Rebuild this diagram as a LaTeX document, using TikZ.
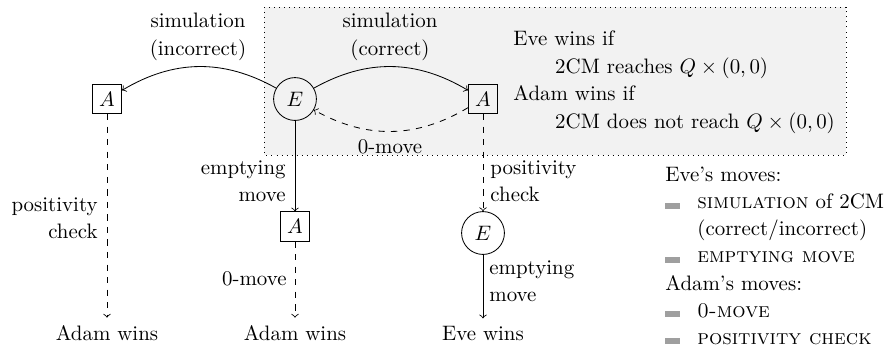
\documentclass[tikz,border=0pt]{standalone}
\usepackage{xcolor}
\newcommand{\legbul}{\makebox[15.3pt][l]{\textcolor{gray!75}{\rule{7.2pt}{2.9pt}}}}
\begin{document}
\begin{tikzpicture}[x=0.4785pt,y=-0.4785pt,>=to,
  abox/.style={draw, rectangle, minimum size=14pt, inner sep=0pt},
  ecirc/.style={draw, circle, minimum size=20.5pt, inner sep=0pt},
  lbl/.style={inner sep=0pt},
  frame/.style={draw, dotted, fill=gray!10}]
\useasboundingbox (0,0) rectangle (890,354);
\draw[frame] (264,7) rectangle (846,155);
% states
\node[abox] (a1) at (107,99) {$A$};
\node[ecirc] (e1) at (295,99) {$E$};
\node[abox] (a2) at (483,99) {$A$};
\node[abox] (a3) at (295,226.5) {$A$};
\node[ecirc] (e2) at (483,233) {$E$};
\node[anchor=base] (w1) at (107,340) {Adam wins};
\node[anchor=base] (w2) at (295,340) {Adam wins};
\node[anchor=base] (w3) at (483,340) {Eve wins};
% connectors
\draw[->] (e1) to[bend right=30] (a1);
\draw[->] (e1) to[bend left=30] (a2);
\draw[->,dashed] (a2) to[bend left=30] (e1);
\draw[->,dashed] (a1) -- (w1);
\draw[->] (e1) -- (a3);
\draw[->,dashed] (a3) -- (w2);
\draw[->,dashed] (a2) -- (e2);
\draw[->] (e2) -- (w3);
% labels
\node[lbl, anchor=north, align=center] (l1) at (198,13) {simulation\\[1pt](incorrect)};
\node[lbl, anchor=north, align=center] (l2) at (390,13) {simulation\\[1pt](correct)};
\node[lbl, anchor=base] (l3) at (390,153.5) {0-move};
\node[lbl, anchor=north east, align=right] (l4) at (286,160) {emptying\\[1pt]move};
\node[lbl, anchor=north west, align=left] (l5) at (490,160) {positivity\\[1pt]check};
\node[lbl, anchor=north east, align=right] (l6) at (98,197) {positivity\\[1pt]check};
\node[lbl, anchor=base east] (l7) at (287,285.5) {0-move};
\node[lbl, anchor=north west, align=left] (l8) at (489,260) {emptying\\[1pt]move};
% winning conditions
\node[lbl, anchor=north west, align=left] (cond) at (513,30.5)
  {Eve wins if\\[1.2pt]
   \hspace*{20pt}2CM reaches $Q\times(0,0)$\\[1.2pt]
   Adam wins if\\[1.2pt]
   \hspace*{20pt}2CM does not reach $Q\times(0,0)$};
% legend
\node[lbl, anchor=north west, align=left] (leg) at (665,166.5)
  {Eve's moves:\\[1pt]
   \legbul\textsc{simulation} of 2CM\\[1pt]
   \hspace*{15.3pt}(correct/incorrect)\\[1pt]
   \legbul\textsc{emptying move}\\[1pt]
   Adam's moves:\\[1pt]
   \legbul\textsc{0-move}\\[1pt]
   \legbul\textsc{positivity check}};
\end{tikzpicture}
\end{document}
